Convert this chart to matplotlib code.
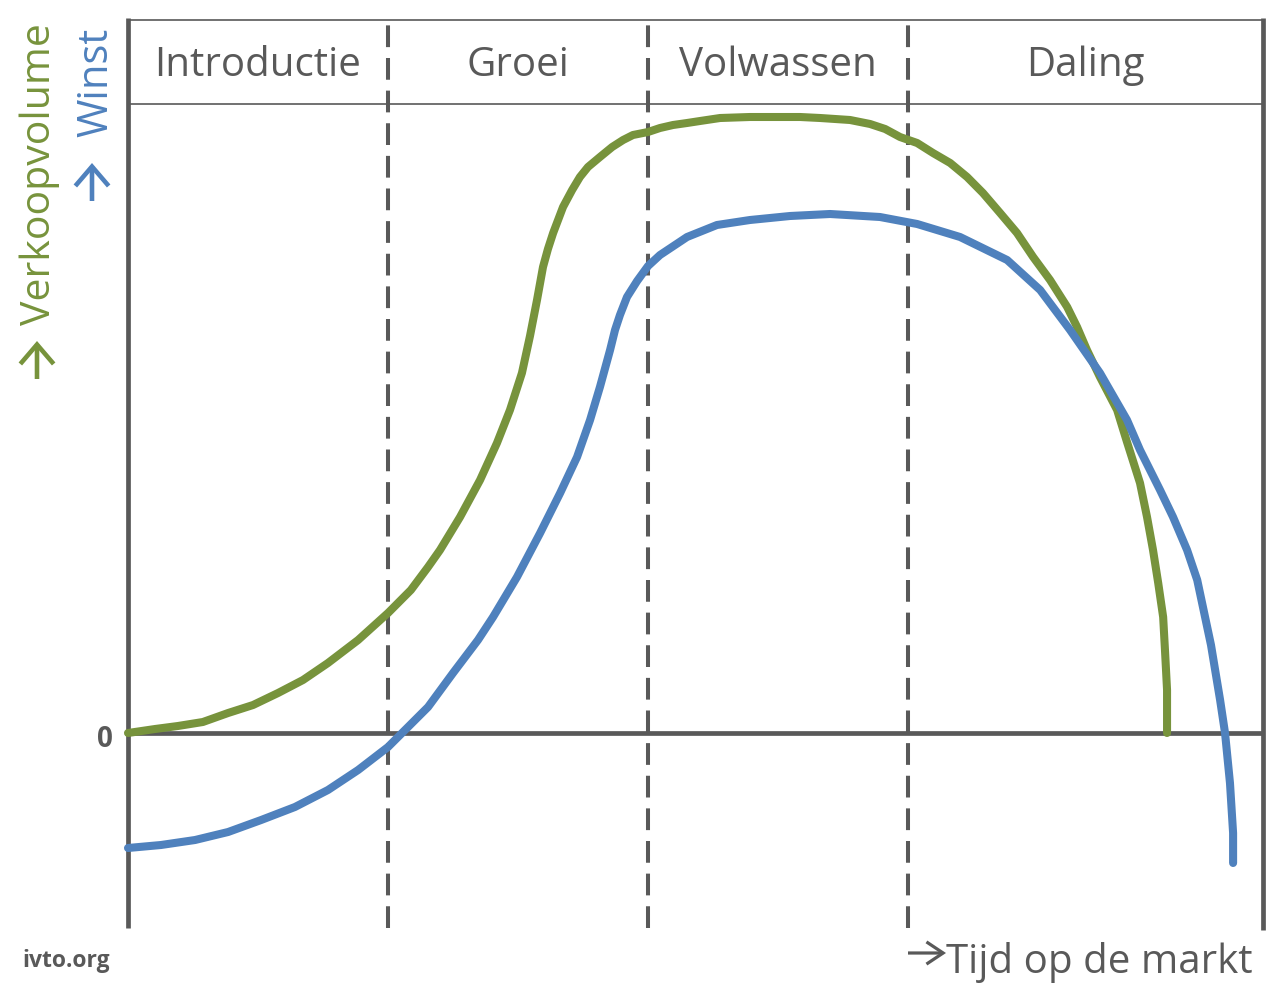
import matplotlib
matplotlib.use("Agg")
import matplotlib.pyplot as plt
from matplotlib.patches import FancyArrowPatch, ArrowStyle

# ---- data (time in phase units, value in arbitrary units) ----
phases = ["Introductie", "Groei", "Volwassen", "Daling"]
phase_bounds = [0.0, 1.0, 2.0, 3.0, 4.365]

sales_x = [0.000, 0.104, 0.192, 0.288, 0.385, 0.481, 0.577, 0.673, 0.769, 0.885, 1.000,
           1.088, 1.154, 1.200, 1.277, 1.354, 1.419, 1.469, 1.515, 1.546, 1.573, 1.596,
           1.615, 1.635, 1.673, 1.708, 1.738, 1.769, 1.815, 1.862, 1.904, 1.942, 2.000,
           2.046, 2.096, 2.150, 2.200, 2.277, 2.392, 2.469, 2.585, 2.662, 2.777, 2.854,
           2.912, 2.969, 3.035, 3.096, 3.162, 3.227, 3.288, 3.354, 3.419, 3.481, 3.546,
           3.612, 3.650, 3.688, 3.738, 3.804, 3.842, 3.892, 3.919, 3.942, 3.962, 3.981,
           3.988, 3.996, 3.996]
sales_y = [0.00, 0.04, 0.07, 0.11, 0.20, 0.28, 0.40, 0.53, 0.70, 0.93, 1.20,
           1.43, 1.66, 1.83, 2.16, 2.53, 2.90, 3.23, 3.60, 3.97, 4.33, 4.66,
           4.84, 5.00, 5.26, 5.43, 5.56, 5.66, 5.76, 5.86, 5.93, 5.98, 6.01,
           6.05, 6.08, 6.10, 6.12, 6.15, 6.16, 6.16, 6.16, 6.15, 6.13, 6.09,
           6.04, 5.96, 5.90, 5.80, 5.70, 5.56, 5.40, 5.20, 5.00, 4.76, 4.53,
           4.26, 4.06, 3.83, 3.56, 3.23, 2.91, 2.50, 2.16, 1.83, 1.50, 1.16,
           0.83, 0.43, 0.00]

profit_x = [0.000, 0.127, 0.258, 0.385, 0.512, 0.642, 0.769, 0.885, 1.000, 1.077, 1.154,
            1.250, 1.346, 1.404, 1.496, 1.585, 1.662, 1.727, 1.777, 1.815, 1.854, 1.873,
            1.892, 1.919, 1.958, 2.000, 2.046, 2.150, 2.265, 2.392, 2.546, 2.700, 2.892,
            3.035, 3.200, 3.381, 3.508, 3.623, 3.738, 3.842, 3.892, 3.969, 4.019, 4.073,
            4.112, 4.165, 4.200, 4.219, 4.238, 4.250, 4.250]
profit_y = [-1.15, -1.12, -1.07, -0.99, -0.87, -0.74, -0.57, -0.37, -0.14, 0.06, 0.26,
            0.60, 0.93, 1.16, 1.56, 2.00, 2.40, 2.76, 3.13, 3.46, 3.83, 4.03,
            4.18, 4.36, 4.52, 4.67, 4.78, 4.96, 5.08, 5.13, 5.17, 5.19, 5.16,
            5.09, 4.96, 4.73, 4.43, 4.03, 3.60, 3.13, 2.83, 2.43, 2.16, 1.83,
            1.53, 0.88, 0.33, 0.00, -0.50, -1.00, -1.30]

GREEN = "#77933C"
BLUE = "#4F81BD"
GREY = "#595959"
TXT = ["Open Sans", "DejaVu Sans"]

W, H = 1285, 994
fig = plt.figure(figsize=(W / 100, H / 100), dpi=100)
ax = fig.add_axes([128 / W, 1 - 928 / H, (1263 - 128) / W, (928 - 18) / H])
ymin, ymax = -1.95, 7.15
header_low, header_top = 6.29, 7.13
ax.set_xlim(0, 4.365)
ax.set_ylim(ymin, ymax)
ax.axis("off")

# frame lines
ax.plot([0, 0], [ymin, ymax], color=GREY, lw=3.4, clip_on=False, solid_capstyle="butt")
ax.plot([4.365, 4.365], [ymin - 0.02, ymax], color=GREY, lw=3.4, clip_on=False, solid_capstyle="butt")
ax.plot([0, 4.365], [header_top, header_top], color=GREY, lw=1.2, clip_on=False)
ax.plot([0, 4.365], [header_low, header_low], color=GREY, lw=1.2, clip_on=False)
ax.plot([0, 4.365], [0, 0], color=GREY, lw=3.4, clip_on=False, solid_capstyle="butt")

# dashed phase separators
for xb in phase_bounds[1:-1]:
    ln, = ax.plot([xb, xb], [ymin, ymax], color=GREY, lw=2.9, clip_on=False, solid_capstyle="butt")
    ln.set_dashes((5.4, 2.7))

# phase labels
for i, name in enumerate(phases):
    xc = (phase_bounds[i] + phase_bounds[i + 1]) / 2
    ax.text(xc, 6.57, name, ha="center", va="baseline", fontsize=29, color=GREY, family=TXT)

# curves
ax.plot(sales_x, sales_y, color=GREEN, lw=5.8, solid_capstyle="round", solid_joinstyle="round",
        clip_on=False, zorder=3)
ax.plot(profit_x, profit_y, color=BLUE, lw=5.8, solid_capstyle="round", solid_joinstyle="round",
        clip_on=False, zorder=4)


def fx(px):
    return px / W


def fy(py):
    return 1 - py / H


def arrow(p0, p1, color, lw, hl, hw):
    a = FancyArrowPatch((fx(p0[0]), fy(p0[1])), (fx(p1[0]), fy(p1[1])),
                        transform=fig.transFigure,
                        arrowstyle=ArrowStyle("->", head_length=hl, head_width=hw),
                        mutation_scale=1, color=color, lw=lw, shrinkA=0, shrinkB=0,
                        capstyle="butt", joinstyle="miter")
    fig.add_artist(a)


# texts outside
fig.text(fx(105), fy(747), "0", ha="center", va="baseline", fontsize=20, fontweight="bold",
         color=GREY, family=TXT)
fig.text(fx(22), fy(967), "ivto.org", ha="left", va="baseline", fontsize=16.5, fontweight="bold",
         color=GREY, family=TXT)
fig.text(fx(1253), fy(973), "Tijd op de markt", ha="right", va="baseline", fontsize=29,
         color=GREY, family=TXT)
arrow((908, 953), (946, 953), GREY, 2.3, 12, 8)

# vertical axis labels
fig.text(fx(50), fy(325), "Verkoopvolume", ha="left", va="baseline", rotation=90,
         rotation_mode="anchor", fontsize=29.5, color=GREEN, family=TXT)
arrow((37, 379), (37, 341), GREEN, 3.3, 14, 12)
fig.text(fx(107), fy(137), "Winst", ha="left", va="baseline", rotation=90,
         rotation_mode="anchor", fontsize=30, color=BLUE, family=TXT)
arrow((92, 201), (92, 163), BLUE, 3.3, 14, 12)

fig.savefig("out.png", dpi=100)
